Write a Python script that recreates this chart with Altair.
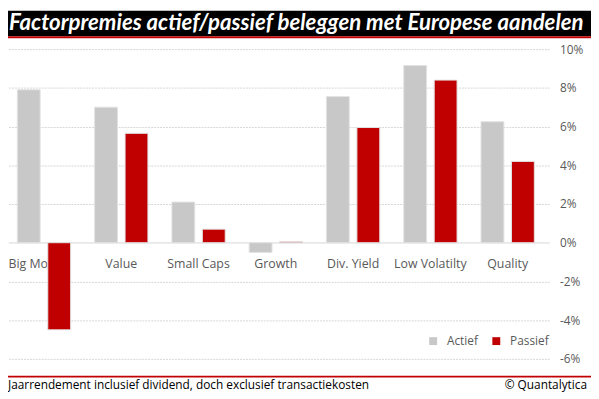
import altair as alt
import pandas as pd

categories = ["Big Mo", "Value", "Small Caps", "Growth", "Div. Yield", "Low Volatilty", "Quality"]
series = ["Actief", "Passief"]
colors = ["#C8C8C8", "#C00000"]
actief = [7.9, 7.0, 2.1, -0.5, 7.55, 9.15, 6.25]
passief = [-4.5, 5.65, 0.7, 0.05, 5.95, 8.4, 4.2]
y_ticks = [-6, -4, -2, 0, 2, 4, 6, 8, 10]
title_text = "Factorpremies actief/passief beleggen met Europese aandelen"
footer_left = "Jaarrendement inclusief dividend, doch exclusief transactiekosten"
footer_right = "© Quantalytica"

rows = []
for c, a, p in zip(categories, actief, passief):
    rows.append({"cat": c, "serie": "Actief", "val": a})
    rows.append({"cat": c, "serie": "Passief", "val": p})
df = pd.DataFrame(rows)
one = pd.DataFrame({"k": [0]})

W, H = 546, 314
FULLW = 591
FONT = "Open Sans"
GRAY = "#595959"

xscale = alt.Scale(domain=categories, range=[-2.7, 545.7], paddingInner=0.31, paddingOuter=0.155)
yscale = alt.Scale(domain=[-6, 10], nice=False, zero=False)

x_axis = alt.Axis(
    orient="bottom", title=None, domain=False, ticks=False, tickSize=0, grid=False,
    offset=alt.ExprRef(expr="scale('y', 0) - height"),
    labelPadding=21, labelBaseline="middle", labelFont=FONT, labelFontSize=12.5,
    labelColor=GRAY, labelOverlap=False, labelFlush=False, labelAngle=0,
    labelAlign={"condition": {"test": "datum.value === 'Big Mo'", "value": "right"}, "value": "center"},
    labelOffset={"condition": {"test": "datum.value === 'Big Mo'", "value": 4}, "value": 0},
)

y_axis = alt.Axis(
    orient="right", values=y_ticks, labelExpr="datum.value + '%'",
    grid=True,
    gridColor="#d6d6d6",
    gridDash={"condition": {"test": "datum.value === 0", "value": []}, "value": [2, 1]},
    domain=False, ticks=False, labelPadding=13, labelAlign="left", labelFont=FONT,
    labelFontSize=12, labelColor=GRAY, labelOverlap=False, labelFlush=False, title=None,
)

bars = alt.Chart(df).mark_bar(stroke="#e3e3e3", strokeWidth=1).encode(
    x=alt.X("cat:N", scale=xscale, axis=x_axis, sort=categories),
    xOffset=alt.XOffset("serie:N", sort=series, scale=alt.Scale(paddingInner=0.25)),
    y=alt.Y("val:Q", scale=yscale, stack=None, title=None, axis=y_axis),
    y2=alt.datum(0),
    color=alt.Color("serie:N", scale=alt.Scale(domain=series, range=colors),
                    legend=alt.Legend(orient="none", legendX=425, legendY=290,
                                      direction="horizontal", title=None,
                                      symbolType="square", symbolSize=64,
                                      symbolStrokeWidth=0, labelFontSize=12,
                                      labelColor=GRAY, labelFont=FONT,
                                      columnPadding=12, labelOffset=8, padding=0)),
)

title_bg = alt.Chart(one).mark_rect(color="black").encode(
    x=alt.value(0), x2=alt.value(FULLW), y=alt.value(-39), y2=alt.value(-13)
)
title_line = alt.Chart(one).mark_rect(color="#C00000").encode(
    x=alt.value(0), x2=alt.value(FULLW), y=alt.value(-13), y2=alt.value(-11)
)
title_txt = alt.Chart(one).mark_text(
    text=title_text, font="Lato", fontSize=22.5, fontWeight="bold", fontStyle="italic",
    color="white", align="left", baseline="alphabetic"
).encode(x=alt.value(1), y=alt.value(-19))

foot_line = alt.Chart(one).mark_rect(color="#C00000").encode(
    x=alt.value(0), x2=alt.value(FULLW), y=alt.value(331), y2=alt.value(333)
)
foot_l = alt.Chart(one).mark_text(
    text=footer_left, font=FONT, fontSize=12, color="black", align="left", baseline="alphabetic"
).encode(x=alt.value(0), y=alt.value(345))
foot_r = alt.Chart(one).mark_text(
    text=footer_right, font=FONT, fontSize=12, color="black", align="right", baseline="alphabetic"
).encode(x=alt.value(587), y=alt.value(345))

chart = alt.layer(
    bars, title_bg, title_line, title_txt, foot_line, foot_l, foot_r
).properties(
    width=W, height=H,
    padding={"left": 0, "top": 39, "right": 45, "bottom": 38},
    autosize=alt.AutoSizeParams(type="none"),
).configure_view(stroke=None)

chart.save("out.html", embed_options={"renderer": "svg", "actions": False})
